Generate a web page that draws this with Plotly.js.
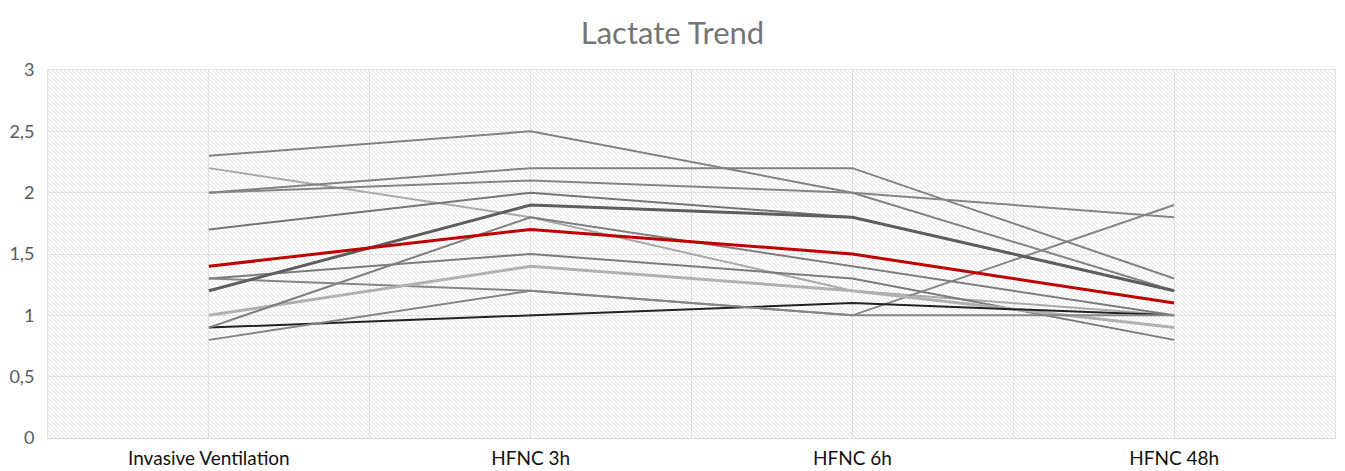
<!DOCTYPE html>
<html>
<head>
<meta charset="utf-8">
<script src="https://cdn.plot.ly/plotly-3.0.1.min.js"></script>
<style>
  html, body { margin: 0; padding: 0; background: #ffffff; }
  #chart { width: 1345px; height: 471px; }
</style>
</head>
<body>
<div id="chart"></div>
<script>
// categories on the x axis
let categories = ['Invasive Ventilation', 'HFNC 3h', 'HFNC 6h', 'HFNC 48h'];

// one series per patient
let patient1  = [2.3, 2.5, 2.0, 1.2];
let patient2  = [2.2, 1.8, 1.2, 1.0];
let patient3  = [2.0, 2.2, 2.2, 1.3];
let patient4  = [2.0, 2.1, 2.0, 1.8];
let patient5  = [1.7, 2.0, 1.8, 1.2];
let patient6  = [1.3, 1.5, 1.3, 0.8];
let patient7  = [1.3, 1.2, 1.0, 1.9];
let patient8  = [1.2, 1.9, 1.8, 1.2];
let patient9  = [1.0, 1.4, 1.2, 0.9];
let patient10 = [0.9, 1.0, 1.1, 1.0];
let patient11 = [0.9, 1.8, 1.4, 1.0];
let patient12 = [0.8, 1.2, 1.0, 1.0];
let meanLactate = [1.4, 1.7, 1.5, 1.1];

let yTicks = [0, 0.5, 1, 1.5, 2, 2.5, 3];

// style of each line (colour, width)
let Styles = [
    [patient1,  '#838383', 2],
    [patient2,  '#a9a9a9', 2],
    [patient3,  '#828282', 2],
    [patient4,  '#858585', 2],
    [patient5,  '#757575', 2],
    [patient6,  '#7b7b7b', 2],
    [patient7,  '#858585', 2],
    [patient8,  '#5e5e5e', 3],
    [patient9,  '#b1b1b1', 3],
    [patient10, '#222222', 2],
    [patient11, '#7e7e7e', 2],
    [patient12, '#858585', 2],
    [meanLactate, '#c00000', 3]
];

let xIndex = categories.map((c, i) => i);

let data = Styles.map(function (s) {
    return {
        type: 'scatter',
        mode: 'lines',
        x: xIndex,
        y: s[0],
        line: {color: s[1], width: s[2]},
        hoverinfo: 'y'
    };
});

// hatched plot-area background, as an svg image
let W = 1287, H = 368;
let hatch = '<svg xmlns="http://www.w3.org/2000/svg" width="' + W + '" height="' + H + '">' +
    '<defs><pattern id="p" width="4" height="4" patternUnits="userSpaceOnUse">' +
    '<path d="M-1,-1 L5,5 M-1,3 L1,5 M3,-1 L5,1" stroke="#e3e3e3" stroke-width="1"/>' +
    '</pattern></defs>' +
    '<rect width="100%" height="100%" fill="#ffffff"/>' +
    '<rect width="100%" height="100%" fill="url(#p)"/></svg>';

let layout = {
    width: 1345,
    height: 471,
    margin: {l: 48, r: 10, t: 70, b: 33},
    paper_bgcolor: '#ffffff',
    plot_bgcolor: '#ffffff',
    separators: ', ',
    showlegend: false,
    font: {family: 'Lato, "Open Sans", sans-serif', color: '#595959'},
    title: {
        text: 'Lactate Trend',
        font: {size: 31, color: '#757575', family: 'Lato, "Open Sans", sans-serif'},
        x: 0.5,
        xanchor: 'center',
        y: 0.93,
        yanchor: 'middle'
    },
    xaxis: {
        range: [-0.5, 3.5],
        tickvals: xIndex,
        ticktext: categories,
        tickfont: {size: 19, color: '#111111'},
        ticks: '',
        ticklabelstandoff: 3,
        showgrid: true,
        gridcolor: '#e0e0e0',
        gridwidth: 1,
        minor: {tick0: -0.5, dtick: 1, showgrid: true, gridcolor: '#e0e0e0', gridwidth: 1},
        showline: true,
        linecolor: '#e0e0e0',
        mirror: true,
        zeroline: false,
        fixedrange: true
    },
    yaxis: {
        range: [0, 3],
        tickvals: yTicks,
        tickfont: {size: 18, color: '#595959'},
        ticks: '',
        ticklabelstandoff: 9,
        showgrid: true,
        gridcolor: '#e0e0e0',
        gridwidth: 1,
        showline: true,
        linecolor: '#e0e0e0',
        mirror: true,
        zeroline: false,
        fixedrange: true
    },
    images: [{
        source: 'data:image/svg+xml;utf8,' + encodeURIComponent(hatch),
        xref: 'paper', yref: 'paper',
        x: 0, y: 1, sizex: 1, sizey: 1,
        xanchor: 'left', yanchor: 'top',
        sizing: 'stretch',
        layer: 'below'
    }]
};

Plotly.newPlot('chart', data, layout, {displayModeBar: false, staticPlot: true});
</script>
</body>
</html>
